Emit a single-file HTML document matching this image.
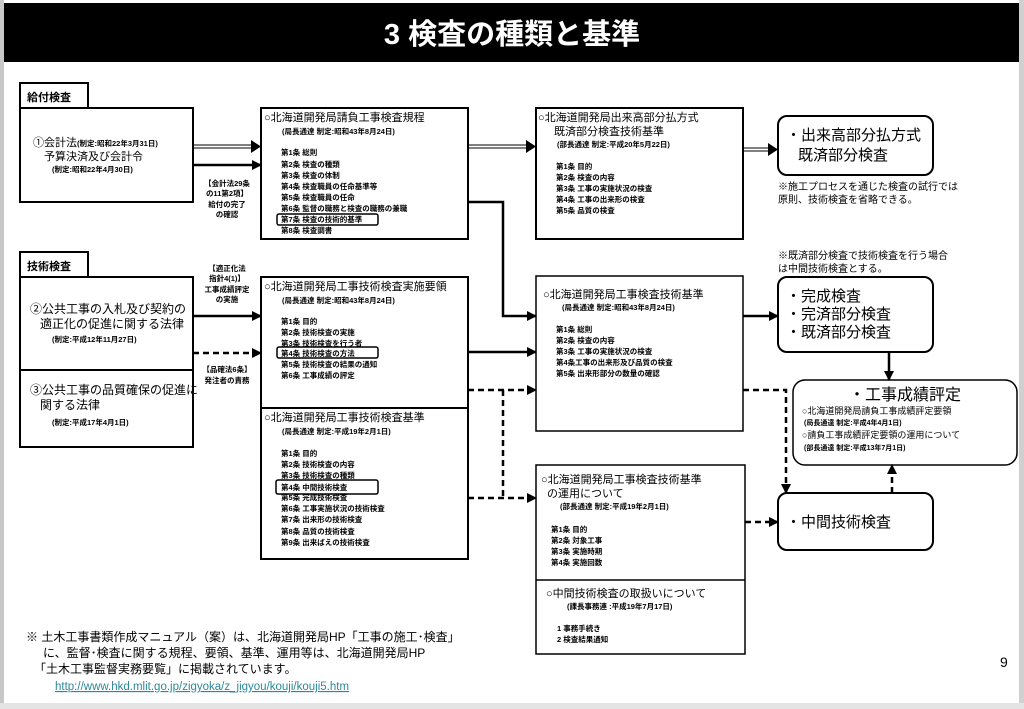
<!DOCTYPE html>
<html><head><meta charset="utf-8"><style>
html,body{margin:0;padding:0;background:#fff}
svg{display:block}
text{font-family:"Liberation Sans","Noto Sans CJK JP",sans-serif;fill:#000}
.s{font-size:7.5px;font-weight:bold}
.m{font-size:11px}
.b{font-size:15px}
</style></head><body>
<svg width="1024" height="709" viewBox="0 0 1024 709" xmlns="http://www.w3.org/2000/svg">
<defs>
<marker id="a" markerWidth="10" markerHeight="10" refX="9" refY="5" orient="auto" markerUnits="userSpaceOnUse"><path d="M0,0 L10,5 L0,10z" fill="#000"/></marker>
</defs>
<rect x="0" y="0" width="1024" height="709" fill="#fff"/>
<rect x="0" y="0" width="4" height="709" fill="#c8c8c8"/>
<rect x="1019" y="0" width="5" height="709" fill="#d0d0d0"/>
<rect x="0" y="703" width="1024" height="6" fill="#e4e4e4"/>
<rect x="4" y="3" width="1015" height="59" fill="#000"/>
<text x="512" y="44" text-anchor="middle" style="font-size:29px;font-weight:bold;fill:#fff">3 検査の種類と基準</text>

<g fill="none" stroke="#000" stroke-width="2">
<rect x="20" y="83" width="68" height="25"/>
<rect x="20" y="108" width="173" height="94"/>
<rect x="20" y="252" width="68" height="25"/>
<rect x="20" y="277" width="173" height="170"/>
<line x1="20" y1="370" x2="193" y2="370"/>
<rect x="261" y="108" width="207" height="131"/>
<rect x="261" y="277" width="207" height="282"/>
<line x1="261" y1="408" x2="468" y2="408"/>
<rect x="536" y="108" width="207" height="131"/>
<rect x="536" y="276" width="207" height="155" stroke-width="1.5"/>
<rect x="536" y="465" width="209" height="189" stroke-width="1.5"/>
<line x1="536" y1="580" x2="745" y2="580" stroke-width="1.5"/>
<rect x="778" y="116" width="155" height="59" rx="9"/>
<rect x="778" y="277" width="155" height="75" rx="9"/>
<rect x="793" y="380" width="224" height="85" rx="12" stroke-width="1.5"/>
<rect x="778" y="493" width="155" height="57" rx="9"/>
<rect x="277" y="214" width="101" height="11" rx="2" stroke-width="1.5"/>
<rect x="277" y="347" width="101" height="11" rx="2" stroke-width="1.5"/>
<rect x="276" y="480" width="102" height="14" rx="2" stroke-width="1.5"/>
</g>

<g stroke="#000" fill="none">
<line x1="193" y1="145" x2="252" y2="145" stroke-width="1"/><line x1="193" y1="148" x2="252" y2="148" stroke-width="1"/>
<path d="M251,140 L261,146.5 L251,153z" fill="#000" stroke="none"/>
<line x1="468" y1="145" x2="527" y2="145" stroke-width="1"/><line x1="468" y1="148" x2="527" y2="148" stroke-width="1"/>
<path d="M526,140 L536,146.5 L526,153z" fill="#000" stroke="none"/>
<line x1="743" y1="148" x2="769" y2="148" stroke-width="1"/><line x1="743" y1="151" x2="769" y2="151" stroke-width="1"/>
<path d="M768,143 L778,149.5 L768,156z" fill="#000" stroke="none"/>
<g stroke-width="2.5">
<line x1="193" y1="165" x2="261" y2="165" marker-end="url(#a)"/>
<path d="M468,202 H503 V316 H536" marker-end="url(#a)"/>
<line x1="193" y1="316" x2="261" y2="316" marker-end="url(#a)"/>
<line x1="468" y1="352" x2="536" y2="352" marker-end="url(#a)"/>
<line x1="743" y1="316" x2="778" y2="316" marker-end="url(#a)"/>
<line x1="889" y1="352" x2="889" y2="380" marker-end="url(#a)"/>
</g>
<g stroke-width="2.5" stroke-dasharray="6,4">
<line x1="193" y1="353" x2="261" y2="353" marker-end="url(#a)"/>
<line x1="468" y1="390" x2="536" y2="390" marker-end="url(#a)"/>
<path d="M503,390 V498"/>
<path d="M468,498 H536" marker-end="url(#a)"/>
<path d="M743,390 H786 V493" marker-end="url(#a)"/>
<line x1="745" y1="522" x2="778" y2="522" marker-end="url(#a)"/>
<line x1="892" y1="493" x2="892" y2="465" marker-end="url(#a)"/>
</g>
</g>

<text x="27" y="101" style="font-size:11px;font-weight:bold">給付検査</text>
<text x="27" y="270" style="font-size:11px;font-weight:bold">技術検査</text>

<text x="33" y="146" class="m">①会計法<tspan style="font-size:7.5px;font-weight:bold">(制定:昭和22年3月31日)</tspan></text>
<text x="44" y="160" class="m">予算決済及び会計令</text>
<text x="52" y="172" class="s">(制定:昭和22年4月30日)</text>

<text x="30" y="313" style="font-size:12px">②公共工事の入札及び契約の</text>
<text x="40" y="328" style="font-size:12px">適正化の促進に関する法律</text>
<text x="52" y="342" class="s">(制定:平成12年11月27日)</text>
<text x="30" y="394" style="font-size:12px">③公共工事の品質確保の促進に</text>
<text x="40" y="409" style="font-size:12px">関する法律</text>
<text x="52" y="425" class="s">(制定:平成17年4月1日)</text>

<g text-anchor="middle">
<text x="227" y="186" class="s">【会計法29条</text>
<text x="227" y="196" class="s">の11第2項】</text>
<text x="227" y="207" class="s">給付の完了</text>
<text x="227" y="217" class="s">の確認</text>
<text x="227" y="271" class="s">【適正化法</text>
<text x="227" y="281" class="s">指針4(1)】</text>
<text x="227" y="292" class="s">工事成績評定</text>
<text x="227" y="302" class="s">の実施</text>
<text x="227" y="372" class="s">【品確法6条】</text>
<text x="227" y="383" class="s">発注者の責務</text>
</g>

<text x="264" y="121" class="m">○北海道開発局請負工事検査規程</text>
<text x="282" y="134" class="s">(局長通達 制定:昭和43年8月24日)</text>
<text x="281" y="155" class="s">第1条 総則</text>
<text x="281" y="167" class="s">第2条 検査の種類</text>
<text x="281" y="178" class="s">第3条 検査の体制</text>
<text x="281" y="189" class="s">第4条 検査職員の任命基準等</text>
<text x="281" y="200" class="s">第5条 検査職員の任命</text>
<text x="281" y="211" class="s">第6条 監督の職務と検査の職務の兼職</text>
<text x="281" y="222" class="s">第7条 検査の技術的基準</text>
<text x="281" y="233" class="s">第8条 検査調書</text>

<text x="264" y="290" class="m">○北海道開発局工事技術検査実施要領</text>
<text x="282" y="303" class="s">(局長通達 制定:昭和43年8月24日)</text>
<text x="281" y="324" class="s">第1条 目的</text>
<text x="281" y="335" class="s">第2条 技術検査の実施</text>
<text x="281" y="346" class="s">第3条 技術検査を行う者</text>
<text x="281" y="356" class="s">第4条 技術検査の方法</text>
<text x="281" y="367" class="s">第5条 技術検査の結果の通知</text>
<text x="281" y="378" class="s">第6条 工事成績の評定</text>

<text x="264" y="421" class="m">○北海道開発局工事技術検査基準</text>
<text x="282" y="434" class="s">(局長通達 制定:平成19年2月1日)</text>
<text x="281" y="456" class="s">第1条 目的</text>
<text x="281" y="467" class="s">第2条 技術検査の内容</text>
<text x="281" y="478" class="s">第3条 技術検査の種類</text>
<text x="281" y="490" class="s">第4条 中間技術検査</text>
<text x="281" y="500" class="s">第5条 完成技術検査</text>
<text x="281" y="511" class="s">第6条 工事実施状況の技術検査</text>
<text x="281" y="522" class="s">第7条 出来形の技術検査</text>
<text x="281" y="534" class="s">第8条 品質の技術検査</text>
<text x="281" y="545" class="s">第9条 出来ばえの技術検査</text>

<text x="538" y="121" class="m">○北海道開発局出来高部分払方式</text>
<text x="554" y="135" class="m">既済部分検査技術基準</text>
<text x="557" y="147" class="s">(部長通達 制定:平成20年5月22日)</text>
<text x="556" y="169" class="s">第1条 目的</text>
<text x="556" y="180" class="s">第2条 検査の内容</text>
<text x="556" y="191" class="s">第3条 工事の実施状況の検査</text>
<text x="556" y="202" class="s">第4条 工事の出来形の検査</text>
<text x="556" y="213" class="s">第5条 品質の検査</text>

<text x="543" y="298" class="m">○北海道開発局工事検査技術基準</text>
<text x="562" y="310" class="s">(局長通達 制定:昭和43年8月24日)</text>
<text x="556" y="332" class="s">第1条 総則</text>
<text x="556" y="343" class="s">第2条 検査の内容</text>
<text x="556" y="354" class="s">第3条 工事の実施状況の検査</text>
<text x="556" y="365" class="s">第4条工事の出来形及び品質の検査</text>
<text x="556" y="376" class="s">第5条 出来形部分の数量の確認</text>

<text x="541" y="483" class="m">○北海道開発局工事検査技術基準</text>
<text x="547" y="497" class="m">の運用について</text>
<text x="560" y="509" class="s">(部長通達 制定:平成19年2月1日)</text>
<text x="551" y="532" class="s">第1条 目的</text>
<text x="551" y="543" class="s">第2条 対象工事</text>
<text x="551" y="554" class="s">第3条 実施時期</text>
<text x="551" y="565" class="s">第4条 実施回数</text>
<text x="546" y="597" class="m">○中間技術検査の取扱いについて</text>
<text x="567" y="609" class="s">(課長事務連 :平成19年7月17日)</text>
<text x="557" y="631" class="s">1 事務手続き</text>
<text x="557" y="642" class="s">2 検査結果通知</text>

<text x="786" y="140" class="b">・出来高部分払方式</text>
<text x="798" y="160" class="b">既済部分検査</text>
<text x="778" y="190" style="font-size:10px">※施工プロセスを通じた検査の試行では</text>
<text x="778" y="203" style="font-size:10px">原則、技術検査を省略できる。</text>
<text x="778" y="259" style="font-size:10px">※既済部分検査で技術検査を行う場合</text>
<text x="778" y="272" style="font-size:10px">は中間技術検査とする。</text>
<text x="786" y="301" class="b">・完成検査</text>
<text x="786" y="319" class="b">・完済部分検査</text>
<text x="786" y="337" class="b">・既済部分検査</text>
<text x="905" y="400" text-anchor="middle" style="font-size:16px">・工事成績評定</text>
<text x="802" y="414" style="font-size:9px">○北海道開発局請負工事成績評定要領</text>
<text x="804" y="425" style="font-size:7px;font-weight:bold">(局長通達 制定:平成4年4月1日)</text>
<text x="802" y="438" style="font-size:9px">○請負工事成績評定要領の運用について</text>
<text x="804" y="450" style="font-size:7px;font-weight:bold">(部長通達 制定:平成13年7月1日)</text>
<text x="786" y="527" class="b">・中間技術検査</text>

<text x="26" y="641" style="font-size:12px">※ 土木工事書類作成マニュアル（案）は、北海道開発局HP「工事の施工･検査」</text>
<text x="43" y="657" style="font-size:12px">に、監督･検査に関する規程、要領、基準、運用等は、北海道開発局HP</text>
<text x="34" y="673" style="font-size:12px">「土木工事監督実務要覧」に掲載されています。</text>
<text x="55" y="690" style="font-size:11.5px;fill:#2a8a9a;text-decoration:underline">http://www.hkd.mlit.go.jp/zigyoka/z_jigyou/kouji/kouji5.htm</text>
<text x="1000" y="667" style="font-size:14px">9</text>
</svg>
</body></html>
